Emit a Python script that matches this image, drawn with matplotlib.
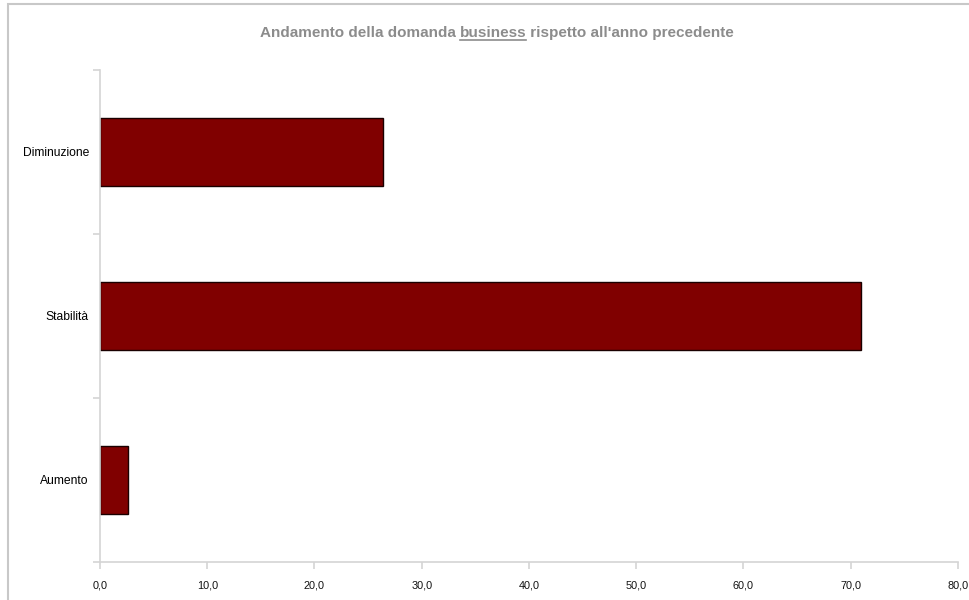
import matplotlib
matplotlib.use("Agg")
import matplotlib.pyplot as plt
import numpy as np
from matplotlib.patches import Rectangle
from matplotlib.lines import Line2D

plt.rcParams['font.family'] = ['Liberation Sans', 'DejaVu Sans']

# risposte (%) sull'andamento della domanda business
categorie = ["Aumento", "Stabilità", "Diminuzione"]
percentuali = [2.6, 71.0, 26.4]
tick_x = [0, 10, 20, 30, 40, 50, 60, 70, 80]

grigio_assi = "#d4d4d4"

fig = plt.figure(figsize=(9.7, 6.0), dpi=100)

# cornice esterna del grafico (tagliata a destra e in basso)
fig.patches.append(Rectangle((8 / 970, -0.01), 1.2, 1 - 4 / 600 + 0.01,
                             transform=fig.transFigure, fill=False,
                             edgecolor="#c8c8c8", linewidth=1.5))

ax = fig.add_axes([100 / 970, 1 - 562 / 600, 858 / 970, 492 / 600])

y = np.arange(len(categorie))
ax.barh(y, percentuali, height=0.41, color="#800000",
        edgecolor="#1a0000", linewidth=1.0)

ax.set_xlim(0, 80)
ax.set_ylim(-0.5, 2.5)
ax.set_xticks(tick_x)
ax.set_xticklabels([f"{v:.1f}".replace(".", ",") for v in tick_x],
                   fontsize=7.8, family=['Liberation Sans Narrow', 'Liberation Sans'])
# tacche dell'asse y tra le categorie, etichette al centro
ax.set_yticks([-0.5, 0.5, 1.5, 2.5])
ax.set_yticklabels([])
ax.set_yticks(y, minor=True)
ax.set_yticklabels(categorie, minor=True, fontsize=8.7,
                   family=['Liberation Sans Narrow', 'Liberation Sans'])
ax.tick_params(axis="y", which="minor", length=0, pad=8)
ax.tick_params(axis="y", which="major", length=5, color=grigio_assi, width=1.2)
ax.tick_params(axis="x", length=5, color=grigio_assi, width=1.2, pad=8)
ax.tick_params(labelcolor="#111111")

for s in ["top", "right"]:
    ax.spines[s].set_visible(False)
for s in ["left", "bottom"]:
    ax.spines[s].set_color(grigio_assi)
    ax.spines[s].set_linewidth(1.2)

# titolo con "business" sottolineato
parti = ["Andamento della domanda ", "business", " rispetto all'anno precedente"]
stile = dict(fontsize=11, fontweight="bold", color="#8c8c8c", va="baseline")
fig.canvas.draw()
renderer = fig.canvas.get_renderer()
larghezze = []
for p in parti:
    t = fig.text(0, 0, p.replace(" ", "\u00a0"), **stile)
    larghezze.append(t.get_window_extent(renderer).width)
    t.remove()
x0 = 497 - sum(larghezze) / 2
y_base = 600 - 37
x = x0
for p, w in zip(parti, larghezze):
    fig.text(x / 970, y_base / 600, p.replace(" ", "\u00a0"), **stile)
    if p == "business":
        fig.add_artist(Line2D([x / 970, (x + w) / 970],
                              [(y_base - 3) / 600, (y_base - 3) / 600],
                              transform=fig.transFigure,
                              color="#8c8c8c", linewidth=1.2))
    x += w

fig.savefig("out.png", dpi=100)
